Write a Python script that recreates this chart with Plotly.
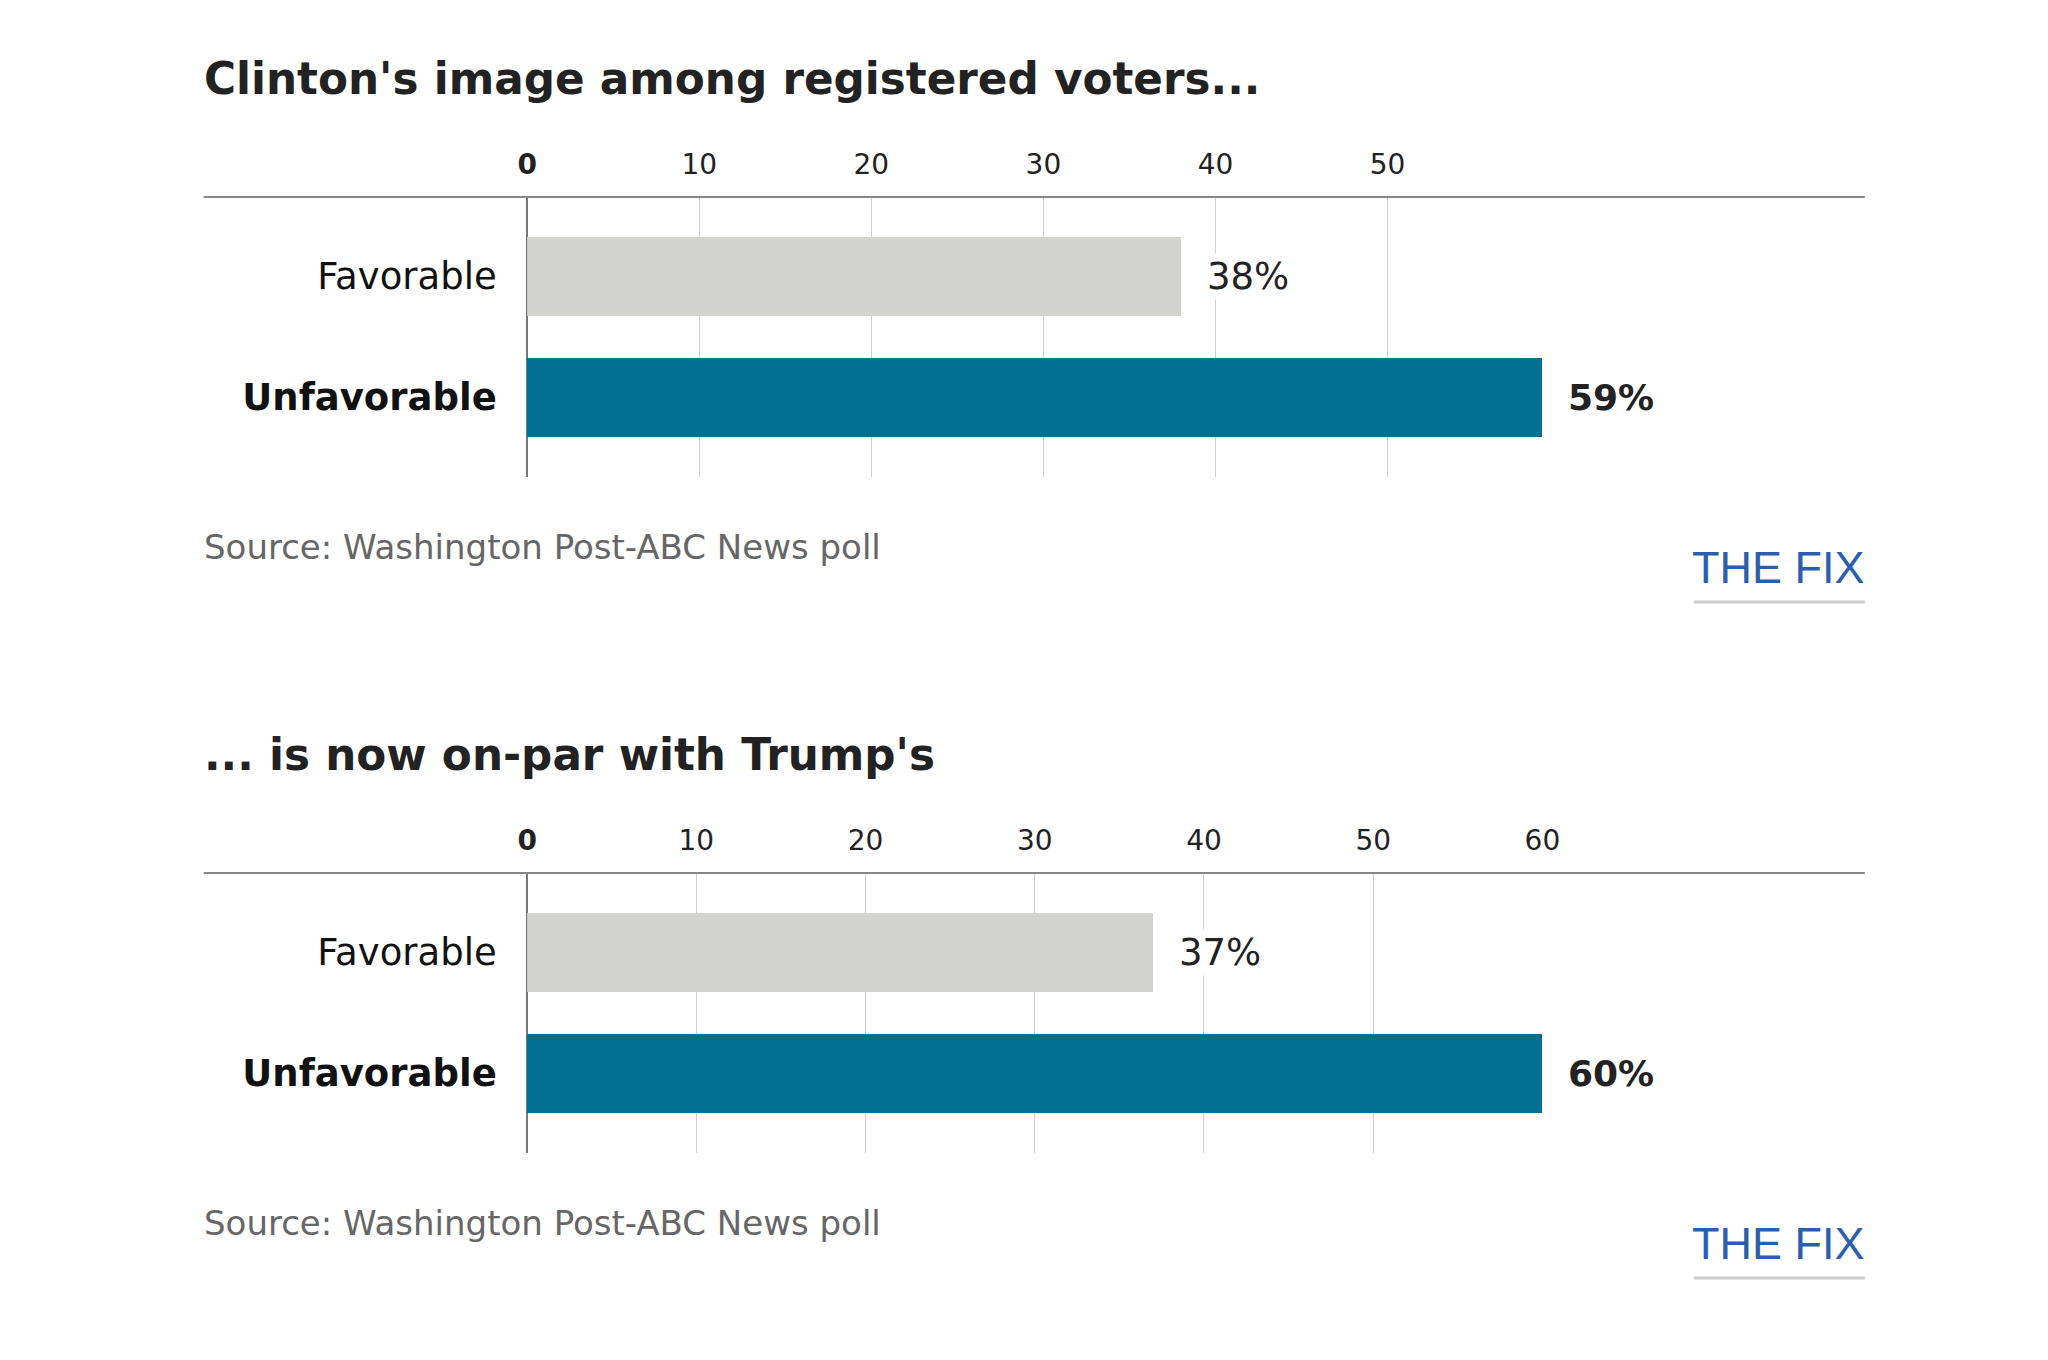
import plotly.graph_objects as go

# ---- data ----
categories = ["Favorable", "Unfavorable"]
clinton_values = [38, 59]
trump_values = [37, 60]
titles = ["Clinton's image among registered voters...", "... is now on-par with Trump's"]
source_text = "Source: Washington Post-ABC News poll"
brand_text = "THE FIX"
clinton_ticks = [0, 10, 20, 30, 40, 50]
trump_ticks = [0, 10, 20, 30, 40, 50, 60]

bar_colors = ["#d3d3cf", "#006f91"]
W, H = 2048, 1360
FONT = "DejaVu Sans"
BRAND_FONT = "Liberation Sans"


def px(t):
    # target pixel x -> paper fraction
    return ((t - 16) / 0.988) / W


def py(t):
    # target pixel y -> paper fraction
    return 1 - (t - 8) / H


fig = go.Figure()

panels = [
    dict(values=clinton_values, ticks=clinton_ticks, x="x", y="y", top=197, bottom=477, dy=0),
    dict(values=trump_values, ticks=trump_ticks, x="x2", y="y2", top=873, bottom=1153, dy=676),
]

annotations = []
shapes = []
for i, p in enumerate(panels):
    fig.add_trace(go.Bar(
        x=p["values"], y=categories, orientation="h",
        marker=dict(color=bar_colors, line=dict(width=0)),
        width=0.66, xaxis=p["x"], yaxis=p["y"], showlegend=False, hoverinfo="skip",
    ))
    # value labels
    for j, (cat, v) in enumerate(zip(categories, p["values"])):
        txt = f"{v}%" if j == 0 else f"<b>{v}%</b>"
        annotations.append(dict(
            x=v, y=cat, xref=p["x"], yref=p["y"], text=txt, showarrow=False,
            xanchor="left", yanchor="middle", xshift=24, bgcolor="white",
            font=dict(family=FONT, size=37 if j == 0 else 36, color="#222"),
        ))
    dy = p["dy"]
    annotations.append(dict(
        x=px(200), y=py(78 + dy), xref="paper", yref="paper", text=f"<b>{titles[i]}</b>",
        showarrow=False, xanchor="left", yanchor="middle",
        font=dict(family=FONT, size=43.7, color="#222"),
    ))
    annotations.append(dict(
        x=px(200), y=py(547 + dy), xref="paper", yref="paper", text=source_text,
        showarrow=False, xanchor="left", yanchor="middle",
        font=dict(family=FONT, size=34, color="#666"),
    ))
    annotations.append(dict(
        x=px(1868), y=py(567 + dy), xref="paper", yref="paper", text=brand_text,
        showarrow=False, xanchor="right", yanchor="middle",
        font=dict(family=BRAND_FONT, size=45, color="#2b5fad"),
    ))
    shapes.append(dict(type="line", xref="paper", yref="paper",
                       x0=px(202), x1=px(1866), y0=py(p["top"]), y1=py(p["top"]),
                       line=dict(color="#888", width=2)))
    shapes.append(dict(type="line", xref="paper", yref="paper",
                       x0=px(1695), x1=px(1866), y0=py(602 + dy), y1=py(602 + dy),
                       line=dict(color="#cccccc", width=3)))

    xa = dict(
        domain=[px(526), px(1543)], range=[0, max(p["values"])], side="top",
        anchor=p["y"], tickvals=p["ticks"],
        ticktext=[f"<b>{t}</b>" if t == 0 else str(t) for t in p["ticks"]],
        tickfont=dict(family=FONT, size=28, color="#222"),
        ticks="outside", ticklen=11, tickcolor="rgba(0,0,0,0)",
        showgrid=True, gridcolor="#d0d0d0", gridwidth=1,
        zeroline=True, zerolinecolor="#777", zerolinewidth=2,
        showline=False, fixedrange=True,
    )
    ya = dict(
        domain=[py(p["bottom"]), py(p["top"])], anchor=p["x"], type="category",
        categoryorder="array", categoryarray=categories,
        range=[1.657, -0.657], tickvals=categories,
        ticktext=[categories[0], f"<b>{categories[1]}</b>"],
        tickfont=dict(family=FONT, size=37, color="#111"),
        ticks="outside", ticklen=22, tickcolor="rgba(0,0,0,0)",
        showgrid=False, zeroline=False, showline=False, fixedrange=True,
    )
    if i == 0:
        fig.update_layout(xaxis=xa, yaxis=ya)
    else:
        fig.update_layout(xaxis2=xa, yaxis2=ya)

fig.update_layout(
    width=W, height=H, margin=dict(l=0, r=0, t=0, b=0),
    paper_bgcolor="white", plot_bgcolor="white",
    annotations=annotations, shapes=shapes, bargap=0,
)

fig.write_html("out.html")
